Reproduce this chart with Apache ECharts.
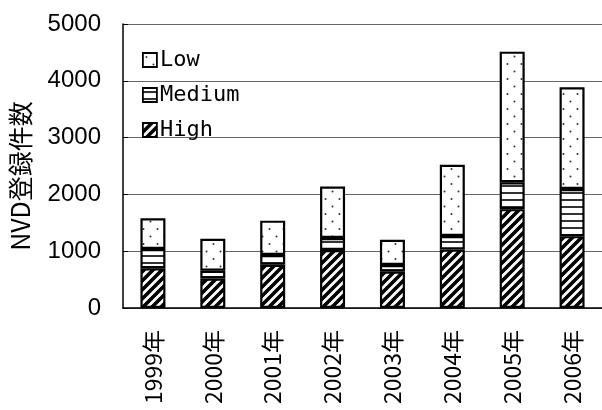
<!DOCTYPE html>
<html>
<head>
<meta charset="utf-8">
<script src="https://cdn.jsdelivr.net/npm/echarts@6/dist/echarts.min.js"></script>
<style>
html,body{margin:0;padding:0;background:#fff;}
#chart{width:602px;height:410px;}
</style>
</head>
<body>
<div id="chart"></div>
<script>
var categories = ['1999年','2000年','2001年','2002年','2003年','2004年','2005年','2006年'];
var highValues = [700, 520, 760, 1020, 640, 1030, 1740, 1265];
var mediumValues = [340, 137, 173, 212, 117, 238, 473, 830];
var lowValues = [540, 560, 605, 905, 445, 1255, 2300, 1790];
var yTicks = [0, 1000, 2000, 3000, 4000, 5000];
var yAxisTitle = 'NVD登録件数';

function makeTile(w, h, draw) {
  var c = document.createElement('canvas');
  c.width = w; c.height = h;
  var ctx = c.getContext('2d');
  ctx.fillStyle = '#fff';
  ctx.fillRect(0, 0, w, h);
  draw(ctx, w, h);
  return c;
}
var highTile = makeTile(9, 9, function (ctx, w, h) {
  ctx.strokeStyle = '#000';
  ctx.lineWidth = 3.6;
  ctx.beginPath();
  ctx.moveTo(-2, h + 2); ctx.lineTo(w + 2, -2);
  ctx.moveTo(-2, 2); ctx.lineTo(2, -2);
  ctx.moveTo(w - 2, h + 2); ctx.lineTo(w + 2, h - 2);
  ctx.stroke();
});
var mediumTile = makeTile(4, 7, function (ctx, w, h) {
  ctx.fillStyle = '#333';
  ctx.fillRect(0, 3, w, 2);
});
var lowTile = makeTile(14, 15, function (ctx, w, h) {
  ctx.fillStyle = '#333';
  ctx.beginPath();
  ctx.arc(3.5, 4, 1, 0, Math.PI * 2);
  ctx.arc(10.5, 11.5, 1, 0, Math.PI * 2);
  ctx.fill();
});

var chart = echarts.init(document.getElementById('chart'), null, {renderer: 'canvas'});
function seriesOf(name, data, tile) {
  return {
    name: name,
    type: 'bar',
    stack: 'total',
    data: data,
    barWidth: 25,
    itemStyle: {
      color: {image: tile, repeat: 'repeat'},
      borderColor: '#000',
      borderWidth: 2.2
    },
    emphasis: {disabled: true},
    animation: false
  };
}
chart.setOption({
  animation: false,
  backgroundColor: '#fff',
  grid: {left: 122, right: -4, top: 24, bottom: 102, containLabel: false},
  legend: {
    orient: 'vertical',
    left: 137,
    top: 44,
    data: ['Low', 'Medium', 'High'],
    icon: 'rect',
    itemWidth: 14,
    itemHeight: 14,
    itemGap: 13,
    itemStyle: {borderColor: '#000', borderWidth: 1.8},
    textStyle: {fontFamily: 'DejaVu Sans Mono', fontSize: 22, color: '#000', lineHeight: 22, padding: [0, 0, 0, -2]},
    selectedMode: false
  },
  xAxis: {
    type: 'category',
    data: categories,
    axisLine: {lineStyle: {color: '#000', width: 1.5}},
    axisTick: {inside: true, length: 7, lineStyle: {color: '#000', width: 1.2}},
    axisLabel: {rotate: 90, margin: 22, fontFamily: 'Noto Sans CJK JP', fontSize: 23, color: '#000'}
  },
  yAxis: {
    type: 'value',
    min: yTicks[0],
    max: yTicks[yTicks.length - 1],
    interval: 1000,
    name: yAxisTitle,
    nameLocation: 'middle',
    nameRotate: 90,
    nameGap: 90,
    nameTextStyle: {fontFamily: 'Noto Sans CJK JP', fontSize: 25, color: '#000', padding: [0, 20, 0, 0]},
    axisLine: {show: true, lineStyle: {color: '#000', width: 1.5}},
    axisTick: {show: true, inside: true, length: 5, lineStyle: {color: '#000'}},
    axisLabel: {margin: 22, fontFamily: 'Liberation Sans', fontSize: 24, color: '#000',
      formatter: function (v) { return String(v); }},
    splitLine: {lineStyle: {color: '#666', width: 1}}
  },
  series: [
    seriesOf('High', highValues, highTile),
    seriesOf('Medium', mediumValues, mediumTile),
    seriesOf('Low', lowValues, lowTile)
  ]
});
</script>
</body>
</html>
